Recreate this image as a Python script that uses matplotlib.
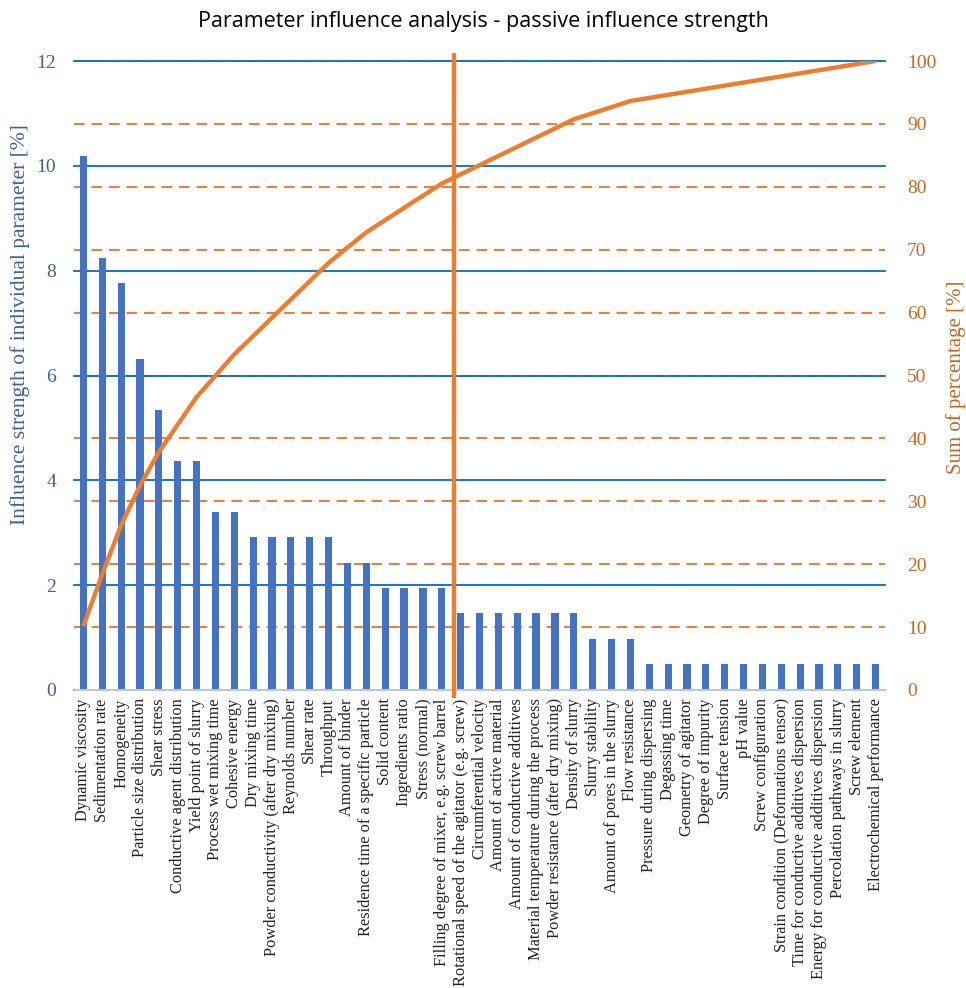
import numpy as np
import matplotlib
matplotlib.use("Agg")
import matplotlib.pyplot as plt

categories = [
    "Dynamic viscosity", "Sedimentation rate", "Homogeneity", "Particle size distribution",
    "Shear stress", "Conductive agent distribution", "Yield point of slurry",
    "Process wet mixing time", "Cohesive energy", "Dry mixing time",
    "Powder conductivity (after dry mixing)", "Reynolds number", "Shear rate", "Throughput",
    "Amount of binder", "Residence time of a specific particle", "Solid content",
    "Ingredients ratio", "Stress (normal)", "Filling degree of mixer, e.g. screw barrel",
    "Rotational speed of the agitator (e.g. screw)", "Circumferential velocity",
    "Amount of active material", "Amount of conductive additives",
    "Material temperature during the process", "Powder resistance (after dry mixing)",
    "Density of slurry", "Slurry stability", "Amount of pores in the slurry",
    "Flow resistance", "Pressure during dispersing", "Degassing time",
    "Geometry of agitator", "Degree of impurity", "Surface tension", "pH value",
    "Screw configuration", "Strain condition (Deformations tensor)",
    "Time for conductive additives dispersion", "Energy for conductive additives dispersion",
    "Percolation pathways in slurry", "Screw element", "Electrochemical performance",
]
influence = [10.19, 8.25, 7.77, 6.31, 5.34, 4.37, 4.37, 3.40, 3.40, 2.91, 2.91, 2.91, 2.91,
             2.91, 2.43, 2.43, 1.94, 1.94, 1.94, 1.94, 1.46, 1.46, 1.46, 1.46, 1.46, 1.46,
             1.46, 0.97, 0.97, 0.97, 0.49, 0.49, 0.49, 0.49, 0.49, 0.49, 0.49, 0.49, 0.49,
             0.49, 0.49, 0.49, 0.49]
cumulative = np.cumsum(influence) / np.sum(influence) * 100
cutoff_position = 19.63
left_ticks = [0, 2, 4, 6, 8, 10, 12]
right_ticks = [0, 10, 20, 30, 40, 50, 60, 70, 80, 90, 100]

BLUE = "#4472C4"
ORANGE = "#ED7D31"
BLUE_TXT = "#3F5E9E"
ORANGE_TXT = "#C9661F"
SERIF = "Liberation Serif"

fig = plt.figure(figsize=(9.66, 9.88), dpi=100)
ax = fig.add_axes([74/966, 1-690/988, (885-74)/966, (690-61)/988])
ax2 = ax.twinx()
ax2.set_zorder(0)
ax.set_zorder(1)
ax.patch.set_visible(False)

x = np.arange(len(categories))

# right axis: dashed grid
ax2.set_ylim(0, 100)
ax2.set_yticks(right_ticks)
ax2.yaxis.grid(True, color=ORANGE, linestyle=(0, (5.5, 3.5)), linewidth=1.4)
ax2.set_yticklabels([str(t) for t in right_ticks], fontsize=14, family=SERIF, color=ORANGE_TXT)
ax2.tick_params(axis="y", length=0, pad=16)
ax2.set_ylabel("Sum of percentage [%]", fontsize=15, family=SERIF, color=ORANGE_TXT,
               ha="center", va="center")
ax2.yaxis.set_label_coords((956-74)/811, (690-377)/629)

# left axis: bars and solid grid
ax.set_axisbelow(True)
ax.yaxis.grid(True, color="#0070C0", linewidth=1.3)
for gl in ax.get_ygridlines():
    gl.set_clip_on(False)
ax.bar(x, influence, width=0.38, color=BLUE, zorder=2)
ax.plot(x, cumulative, color=ORANGE, linewidth=3.2, transform=ax2.transData, zorder=3,
        solid_capstyle="butt")
ax.plot([cutoff_position, cutoff_position], [-1.2, 101.2], color=ORANGE, linewidth=3.2,
        transform=ax2.transData, zorder=4, clip_on=False, solid_capstyle="butt")

ax.set_xlim(-0.5, len(categories) - 0.5)
ax.set_ylim(0, 12)
ax.set_yticks(left_ticks)
ax.set_yticklabels([str(t) for t in left_ticks], fontsize=14, family=SERIF, color=BLUE_TXT)
ax.tick_params(axis="y", length=0, pad=13)
ax.set_xticks(x)
ax.set_xticklabels(categories, rotation=90, fontsize=11.8, family=SERIF, color="#222222")
ax.tick_params(axis="x", length=0, pad=6)
ax.set_ylabel("Influence strength of individual parameter [%]", fontsize=15.5, family=SERIF,
              color=BLUE_TXT, ha="center", va="center")
ax.yaxis.set_label_coords((20-74)/811, (690-325)/629)

for a in (ax, ax2):
    for s in ("top", "left", "right"):
        a.spines[s].set_visible(False)
    a.spines["bottom"].set_color("#D9D9D9")
    a.spines["bottom"].set_linewidth(1.2)

fig.text(0.5, 1-21/988, "Parameter influence analysis - passive influence strength",
         ha="center", va="center", fontsize=15.5, family="Open Sans", color="#000000")

fig.savefig("out.png", dpi=100)
